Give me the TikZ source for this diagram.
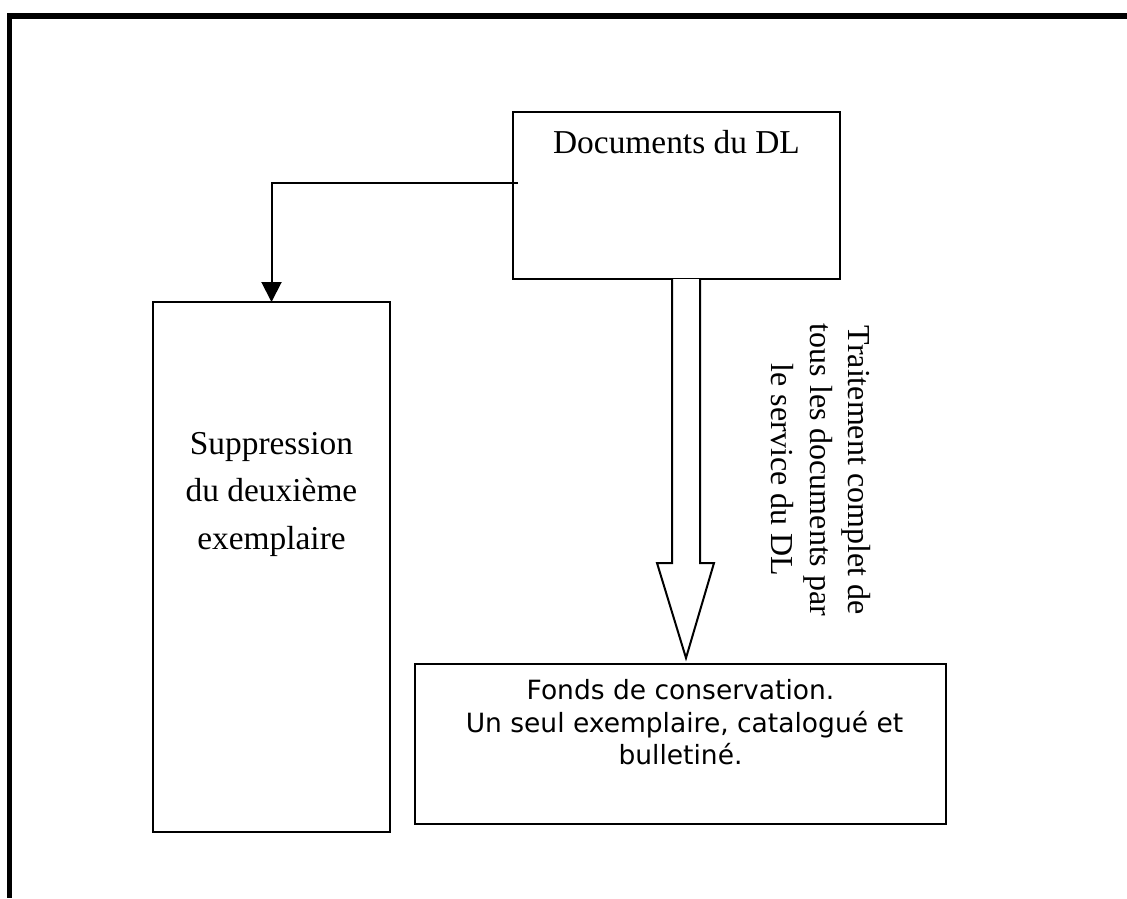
\documentclass[tikz,border=0pt]{standalone}
\usepackage{fontspec}
\setmainfont{Liberation Serif}
\newfontfamily\verd{DejaVu Sans}
\usetikzlibrary{arrows.meta,calc}
\begin{document}
\begin{tikzpicture}[x=1pt,y=-1pt,
  box/.style={draw,line width=2pt,inner sep=0pt,outer sep=0pt},
  lbl/.style={inner sep=0pt,align=center},
  conn/.style={line width=2pt,-{Triangle[width=20pt,length=20pt]}},
  bigarrow/.style={line width=2pt,fill=white,line join=miter}]
\useasboundingbox (0,0) rectangle (1127,898);
\fill[white] (0,0) rectangle (1127,898);
% page frame
\fill[black] (7,13) rectangle (1127,19);
\fill[black] (7,13) rectangle (12,898);
% boxes
\node[box,minimum width=327pt,minimum height=167pt] (doc) at (676.5,195.5) {};
\node[lbl,anchor=base,font=\fontsize{33.4}{40}\selectfont] (doclabel) at (676.5,153) {Documents du DL};
\node[box,minimum width=237pt,minimum height=530pt] (sup) at (271.5,567) {};
\node[lbl,font=\fontsize{33.4}{47.5}\selectfont] (suplabel) at (271.5,494) {Suppression\\du deuxième\\exemplaire};
\node[box,minimum width=531pt,minimum height=160pt] (fonds) at (680.5,744) {};
\node[lbl,font=\verd\fontsize{26.5}{32.5}\selectfont] (fondslabel) at (680.5,722.5) {Fonds de conservation.\\\hspace*{0.3em}Un seul exemplaire, catalogué et\\bulletiné.};
% rotated label of the big arrow
\node[lbl,rotate=-90,font=\fontsize{32}{38.5}\selectfont] (trait) at (821,470) {Traitement complet de\\tous les documents par\\le service du DL};
% connector doc -> sup
\coordinate (cstart) at ($(doc.north west)+(5,71)$);
\draw[conn] (cstart) -| (sup.north);
% big hollow arrow doc -> fonds
\coordinate (as) at ($(doc.south)+(9.5,0)$);
\coordinate (ae) at ($(fonds.north)+(5.5,-6)$);
\draw[bigarrow] ($(as)+(-14,0)$) -- ($(as)+(-14,284)$) -- ($(as)+(-29,284)$) -- (ae)
  -- ($(as)+(28,284)$) -- ($(as)+(14,284)$) -- ($(as)+(14,0)$);
\end{tikzpicture}
\end{document}
